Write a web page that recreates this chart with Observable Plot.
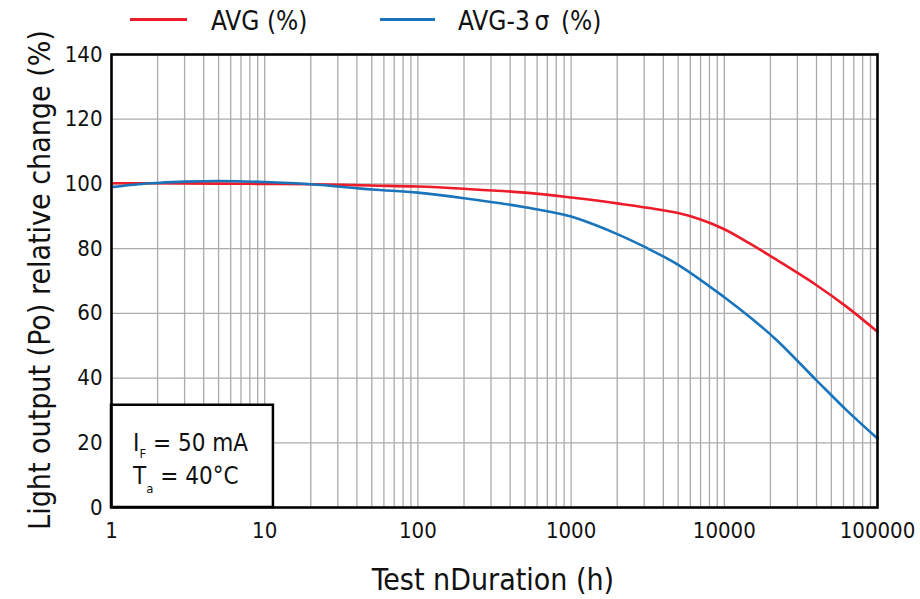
<!DOCTYPE html>
<html>
<head>
<meta charset="utf-8">
<script src="https://cdn.jsdelivr.net/npm/d3@7"></script>
<script src="https://cdn.jsdelivr.net/npm/@observablehq/plot@0.6"></script>
<style>
  html, body { margin: 0; padding: 0; background: #fff; }
  body { width: 920px; height: 599px; overflow: hidden; font-family: "Liberation Sans Narrow", "DejaVu Sans Condensed", "Roboto", sans-serif; }
  #legend { position: relative; height: 40px; width: 920px; }
  .sw { position: absolute; height: 3px; top: 18px; }
  .lt { position: absolute; top: 6px; font-size: 26px; line-height: 30px; color: #111; white-space: pre; }
</style>
</head>
<body>
<div id="legend"></div>
<div id="chart"></div>
<script>
// ---- data ----
const seriesNames = ["AVG (%)", "AVG-3\u2009σ\u2002(%)"];
const seriesColors = ["#ec1c2b", "#1a74bb"];

const avgHours  = [1, 2, 5, 10, 20, 50, 100, 200, 500, 1000, 2000, 5000, 7000, 10000, 15000, 22000, 40000, 63000, 100000];
const avgValues = [100.2, 100.2, 100.1, 100.0, 99.9, 99.5, 99.2, 98.5, 97.3, 95.8, 94.0, 91.0, 89.0, 86.0, 81.3, 76.5, 68.7, 62.0, 54.3];

const sigHours  = [1, 1.5, 2, 3, 5, 10, 20, 50, 100, 200, 500, 1000, 2000, 3000, 5000, 10000, 15000, 22000, 40000, 63000, 100000];
const sigValues = [99.0, 99.9, 100.3, 100.7, 100.9, 100.6, 99.9, 98.3, 97.3, 95.6, 92.8, 89.9, 84.5, 80.6, 75.0, 65.0, 58.5, 51.7, 39.3, 30.0, 21.3];

const xTickValues = [1, 10, 100, 1000, 10000, 100000];
const yTickValues = [0, 20, 40, 60, 80, 100, 120, 140];
const yGridValues = [20, 40, 60, 80, 100, 120];
const xGridValues = [1,2,3,4,5,6,7,8,9,10,20,30,40,50,60,70,80,90,100,200,300,400,500,600,700,800,900,1000,2000,3000,4000,5000,6000,7000,8000,9000,10000,20000,30000,40000,50000,60000,70000,80000,90000,100000];

const xTitle = "Test nDuration (h)";
const yTitle = "Light output (Po) relative change (%)";
const noteBox = [{x1: 1, x2: 11.4, y1: 0, y2: 31.6}];

// ---- legend ----
const legend = document.getElementById("legend");
const legendLayout = [{sx: 130, sw: 57, tx: 211}, {sx: 380, sw: 55, tx: 458}];
seriesNames.forEach((name, i) => {
  const s = document.createElement("div");
  s.className = "sw";
  s.style.left = legendLayout[i].sx + "px";
  s.style.width = legendLayout[i].sw + "px";
  s.style.background = seriesColors[i];
  legend.appendChild(s);
  const t = document.createElement("div");
  t.className = "lt";
  t.style.left = legendLayout[i].tx + "px";
  t.textContent = name;
  legend.appendChild(t);
});

// ---- chart ----
const avgData = avgHours.map((h, i) => ({h, v: avgValues[i]}));
const sigData = sigHours.map((h, i) => ({h, v: sigValues[i]}));

const chart = Plot.plot({
  width: 920,
  height: 559,
  marginTop: 14,
  marginBottom: 92,
  marginLeft: 111,
  marginRight: 43,
  style: {fontFamily: '"Liberation Sans Narrow", "DejaVu Sans Condensed", sans-serif', fontSize: "22px", color: "#111", background: "white", overflow: "visible"},
  x: {type: "log", domain: [1, 100000], ticks: xTickValues, tickFormat: d => String(d), tickSize: 0, tickPadding: 15, label: null},
  y: {domain: [0, 140], ticks: yTickValues, tickSize: 0, tickPadding: 9, label: null},
  marks: [
    Plot.ruleX(xGridValues, {stroke: "#ababab", strokeWidth: 1.3}),
    Plot.ruleY(yGridValues, {stroke: "#ababab", strokeWidth: 1.3}),
    Plot.rect(noteBox, {x1: "x1", x2: "x2", y1: "y1", y2: "y2", fill: "white", stroke: "black", strokeWidth: 2.5}),
    Plot.line(avgData, {x: "h", y: "v", stroke: seriesColors[0], strokeWidth: 2.6, curve: "catmull-rom"}),
    Plot.line(sigData, {x: "h", y: "v", stroke: seriesColors[1], strokeWidth: 2.6, curve: "catmull-rom"}),
    Plot.frame({stroke: "black", strokeWidth: 2.6})
  ]
});
document.getElementById("chart").appendChild(chart);

// ---- titles and note (added with d3) ----
const svg = d3.select(chart);
const fam = '"Liberation Sans Narrow", "DejaVu Sans Condensed", sans-serif';
svg.append("text")
  .attr("x", 493).attr("y", 550)
  .attr("text-anchor", "middle")
  .attr("font-family", fam).attr("font-size", 30).attr("fill", "#111")
  .text(xTitle);
svg.append("text")
  .attr("transform", "translate(50,240) rotate(-90)")
  .attr("text-anchor", "middle")
  .attr("font-family", fam).attr("font-size", 30).attr("fill", "#111")
  .text(yTitle);

const note1 = svg.append("text").attr("x", 133).attr("y", 411)
  .attr("text-anchor", "start")
  .attr("font-family", fam).attr("font-size", 24).attr("fill", "#111");
note1.append("tspan").text("I");
note1.append("tspan").attr("font-size", 13).attr("dy", 7).text("F");
note1.append("tspan").attr("dy", -7).text(" = 50 mA");

const note2 = svg.append("text").attr("x", 133).attr("y", 444)
  .attr("text-anchor", "start")
  .attr("font-family", fam).attr("font-size", 24).attr("fill", "#111");
note2.append("tspan").text("T");
note2.append("tspan").attr("font-size", 13).attr("dy", 9).text("a");
note2.append("tspan").attr("dy", -9).text(" = 40°C");
</script>
</body>
</html>
